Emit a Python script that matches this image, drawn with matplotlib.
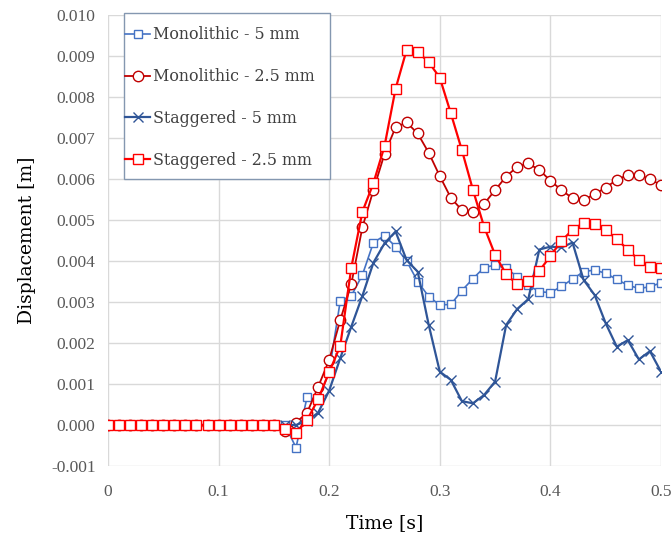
import numpy as np
import matplotlib
matplotlib.use("Agg")
import matplotlib.pyplot as plt
from matplotlib.patches import Rectangle

# time samples every 0.01 s, 0 .. 0.5
time = [round(0.01 * i, 2) for i in range(51)]

zeros = [0.0] * 16  # t = 0.00 .. 0.15

mono_5 = zeros + [
    0.0, -0.00055, 0.00068, 0.0006, 0.0013, 0.00303, 0.00315, 0.00366, 0.00445, 0.00462,
    0.00435, 0.0040, 0.0035, 0.00313, 0.00293, 0.00294, 0.00328, 0.00357, 0.00384, 0.0039,
    0.00382, 0.00362, 0.00341, 0.00325, 0.00323, 0.00338, 0.00356, 0.00374, 0.00378, 0.0037,
    0.00355, 0.00341, 0.00333, 0.00337, 0.00347,
]
mono_25 = zeros + [
    -0.00015, 0.00006, 0.0003, 0.00093, 0.00159, 0.00256, 0.00344, 0.00482, 0.00573, 0.00661,
    0.00726, 0.00738, 0.00711, 0.00664, 0.00607, 0.00554, 0.00524, 0.00519, 0.00539, 0.00573,
    0.00606, 0.0063, 0.00638, 0.00622, 0.00596, 0.00573, 0.00553, 0.00549, 0.00563, 0.00579,
    0.00598, 0.0061, 0.0061, 0.006, 0.00585,
]
stag_5 = zeros + [
    0.0, 0.0, 0.0001, 0.0003, 0.00084, 0.00163, 0.0024, 0.00315, 0.00396, 0.00443,
    0.00472, 0.00402, 0.00374, 0.00244, 0.0013, 0.0011, 0.00058, 0.00053, 0.00073, 0.00106,
    0.00244, 0.00283, 0.00307, 0.00428, 0.00435, 0.00433, 0.00445, 0.00354, 0.00317, 0.00248,
    0.00191, 0.00207, 0.0016, 0.0018, 0.0013,
]
stag_25 = zeros + [
    -0.0001, -0.0002, 0.00012, 0.00063, 0.00129, 0.00193, 0.00384, 0.0052, 0.0059, 0.0068,
    0.0082, 0.00915, 0.0091, 0.00885, 0.00847, 0.0076, 0.0067, 0.00573, 0.00484, 0.00415,
    0.00368, 0.00343, 0.00352, 0.00376, 0.00412, 0.00449, 0.00476, 0.00493, 0.00491, 0.00476,
    0.00453, 0.00428, 0.00402, 0.00386, 0.00382,
]

x_ticks = [0, 0.1, 0.2, 0.3, 0.4, 0.5]
x_tick_labels = ["0", "0.1", "0.2", "0.3", "0.4", "0.5"]
y_ticks = [round(-0.001 + 0.001 * i, 3) for i in range(12)]


def main():
    fig = plt.figure(figsize=(6.72, 5.38), dpi=100)
    ax = fig.add_axes([108 / 672, 72 / 538, 553 / 672, 451 / 538])

    ax.plot(time, mono_5, color="#4472C4", lw=1.2, marker="s", ms=6,
            mfc="white", mec="#4472C4", mew=1.0, label="Monolithic - 5 mm", zorder=3)
    ax.plot(time, mono_25, color="#C00000", lw=1.3, marker="o", ms=7.5,
            mfc="white", mec="#C00000", mew=1.0, label="Monolithic - 2.5 mm", zorder=4)
    ax.plot(time, stag_5, color="#2F5597", lw=1.6, marker="x", ms=6.5,
            mec="#2F5597", mew=1.0, label="Staggered - 5 mm", zorder=5)
    ax.plot(time, stag_25, color="#FF0000", lw=1.6, marker="s", ms=7.5,
            mfc="white", mec="#FF0000", mew=1.0, label="Staggered - 2.5 mm", zorder=6)

    ax.set_xlim(0, 0.5)
    ax.set_ylim(-0.001, 0.010)
    ax.set_xticks(x_ticks)
    ax.set_xticklabels(x_tick_labels)
    ax.set_yticks(y_ticks)
    ax.set_yticklabels([f"{v:.3f}" for v in y_ticks])
    ax.tick_params(length=0, labelsize=12.5, labelcolor="#595959")
    ax.tick_params(axis="y", pad=9)
    ax.tick_params(axis="x", pad=13)
    for lab in ax.get_xticklabels() + ax.get_yticklabels():
        lab.set_family("Liberation Serif")

    ax.grid(True, color="#D9D9D9", lw=1.0)
    ax.set_axisbelow(True)
    for s in ax.spines.values():
        s.set_visible(False)

    ax.set_xlabel("Time [s]", family="DejaVu Serif", fontsize=13.5, labelpad=10)
    ax.set_ylabel("Displacement [m]", family="DejaVu Serif", fontsize=13.5, labelpad=11)

    # legend box drawn separately so the padding can differ horizontally/vertically
    box = Rectangle((0.0289, 0.636), 0.3725, 0.3684, transform=ax.transAxes,
                    facecolor="white", edgecolor="#8497B0", lw=1.0,
                    clip_on=False, zorder=9)
    ax.add_patch(box)
    leg = ax.legend(loc="upper left", bbox_to_anchor=(0.031, 0.975),
                    prop={"family": "DejaVu Serif", "size": 11.4},
                    handlelength=1.6, handletextpad=0.15, labelspacing=1.57,
                    borderpad=0, borderaxespad=0, frameon=False)
    leg.set_zorder(10)
    for t in leg.get_texts():
        t.set_color("#404040")

    fig.savefig("out.png", dpi=100)


if __name__ == "__main__":
    main()
